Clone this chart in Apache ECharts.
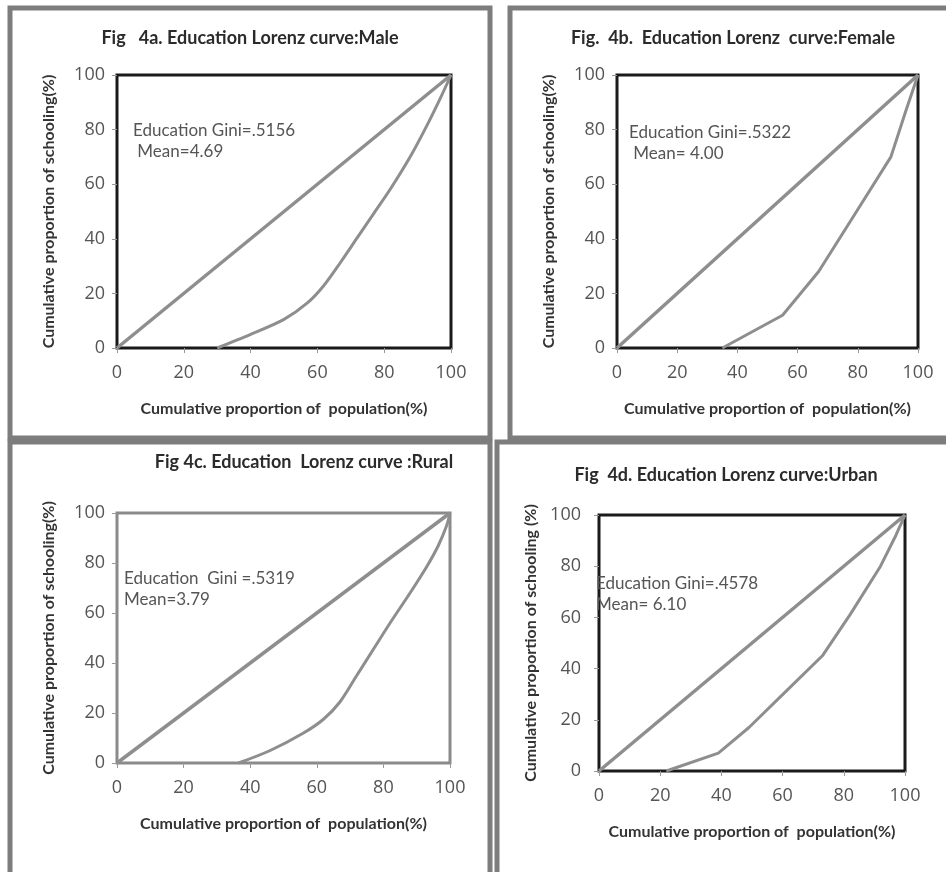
<!DOCTYPE html>
<html>
<head>
<meta charset="utf-8">
<script src="https://cdn.jsdelivr.net/npm/echarts@6/dist/echarts.min.js"></script>
<style>
html,body{margin:0;padding:0;background:#fff;}
#chart{width:946px;height:872px;}
</style>
</head>
<body>
<div id="chart"></div>
<script>
// ---- Data ----
const equalityX = [0, 100];
const equalityY = [0, 100];

const maleX = [30, 40, 50, 57, 62, 67, 72, 77, 82, 88, 93, 97, 100];
const maleY = [0, 5, 10.5, 16.5, 23, 31.5, 40.5, 49.5, 58.5, 70.5, 82, 92, 100];

const femaleX = [35, 55, 67, 79, 91, 96, 100];
const femaleY = [0, 12, 28, 49, 70, 87, 100];

const ruralX = [36.5, 46, 56, 62, 67, 72, 77, 82, 88, 93, 96.5, 99, 100];
const ruralY = [0, 5, 12, 17.5, 24.5, 35, 45.5, 56, 68, 78.5, 87, 95, 100];

const urbanX = [22, 39, 49, 61, 73, 82, 92, 97, 100];
const urbanY = [0, 7, 17, 31, 45, 61, 80, 92, 100];

const titles = [
  'Fig   4a. Education Lorenz curve:Male',
  'Fig.  4b.  Education Lorenz  curve:Female',
  'Fig 4c. Education  Lorenz curve :Rural',
  'Fig  4d. Education Lorenz curve:Urban'
];
const giniLines = [
  ['Education Gini=.5156', ' Mean=4.69'],
  ['Education Gini=.5322', ' Mean= 4.00'],
  ['Education  Gini =.5319', 'Mean=3.79'],
  ['Education Gini=.4578', 'Mean= 6.10']
];
const xName = 'Cumulative proportion of  population(%)';
const yNames = [
  'Cumulative proportion of schooling(%)',
  'Cumulative proportion of schooling(%)',
  'Cumulative proportion of schooling(%)',
  'Cumulative proportion of schooling (%)'
];

// ---- Layout ----
const grids = [
  {left: 117, top: 75, width: 334, height: 273, border: '#1a1a1a', ym: 12},
  {left: 617, top: 75, width: 301, height: 273, border: '#1a1a1a', ym: 12},
  {left: 117, top: 513, width: 333, height: 250, border: '#8a8a8a', ym: 12},
  {left: 599, top: 515, width: 306, height: 256, border: '#1a1a1a', ym: 18}
];
const titlePos = [[250, 38], [733, 38], [304, 462], [726, 475]];
const annPos = [[133, 120], [629, 122], [124, 568], [596, 573]];

const FONT = 'Lato, "Open Sans", sans-serif';
const curveColor = '#8e8e8e';
const lorenz = [[maleX, maleY], [femaleX, femaleY], [ruralX, ruralY], [urbanX, urbanY]];

function pairs(xs, ys) { return xs.map((x, i) => [x, ys[i]]); }

const xAxes = [], yAxes = [], series = [], graphics = [];

// panel frames
const frameStyle = {fill: 'none', stroke: '#7d7d7d', lineWidth: 5};
graphics.push({type: 'rect', shape: {x: 10, y: 8, width: 480, height: 430}, style: frameStyle, z: 1});
graphics.push({type: 'rect', shape: {x: 510, y: 8, width: 450, height: 430}, style: frameStyle, z: 1});
graphics.push({type: 'rect', shape: {x: 10, y: 442, width: 480, height: 450}, style: frameStyle, z: 1});
graphics.push({type: 'rect', shape: {x: 497, y: 442, width: 460, height: 450}, style: frameStyle, z: 1});

grids.forEach((g, i) => {
  xAxes.push({
    type: 'value', gridIndex: i, min: 0, max: 100, interval: 20,
    name: xName, nameLocation: 'middle', nameGap: 53,
    nameTextStyle: {fontFamily: FONT, fontWeight: 'bold', fontSize: 16, color: '#333'},
    axisLine: {show: false},
    axisTick: {show: true, length: 5, lineStyle: {color: '#999'}},
    axisLabel: {fontFamily: '"Open Sans", sans-serif', fontSize: 18, color: '#555', margin: 16},
    splitLine: {show: false}
  });
  yAxes.push({
    type: 'value', gridIndex: i, min: 0, max: 100, interval: 20,
    name: yNames[i], nameLocation: 'middle', nameGap: 60, nameRotate: 90,
    nameTextStyle: {fontFamily: FONT, fontWeight: 'bold', fontSize: 16, color: '#333'},
    axisLine: {show: false},
    axisTick: {show: true, length: 5, lineStyle: {color: '#999'}},
    axisLabel: {fontFamily: '"Open Sans", sans-serif', fontSize: 18, color: '#555', margin: g.ym},
    splitLine: {show: false}
  });
  series.push({
    type: 'line', xAxisIndex: i, yAxisIndex: i, data: pairs(equalityX, equalityY),
    symbol: 'none', lineStyle: {color: curveColor, width: 3.5}, z: 3, animation: false
  });
  series.push({
    type: 'line', xAxisIndex: i, yAxisIndex: i, data: pairs(lorenz[i][0], lorenz[i][1]),
    symbol: 'none', smooth: (i === 0 || i === 2) ? 0.3 : false,
    lineStyle: {color: curveColor, width: 3}, z: 3, animation: false
  });
  graphics.push({
    type: 'text', x: titlePos[i][0], y: titlePos[i][1], z: 5,
    style: {text: titles[i], font: 'bold 18px ' + FONT, fill: '#2b2b2b', textAlign: 'center', textVerticalAlign: 'middle'}
  });
  graphics.push({
    type: 'text', x: annPos[i][0], y: annPos[i][1], z: 5,
    style: {text: giniLines[i].join('\n'), font: '17px ' + FONT, fill: '#555', lineHeight: 21, textAlign: 'left', textVerticalAlign: 'top'}
  });
});

const chart = echarts.init(document.getElementById('chart'), null, {renderer: 'canvas'});
chart.setOption({
  animation: false,
  backgroundColor: '#fff',
  grid: grids.map(g => ({left: g.left, top: g.top, width: g.width, height: g.height, show: true, borderColor: g.border, borderWidth: 3, backgroundColor: 'transparent', containLabel: false})),
  xAxis: xAxes,
  yAxis: yAxes,
  series: series,
  graphic: graphics
});
</script>
</body>
</html>
